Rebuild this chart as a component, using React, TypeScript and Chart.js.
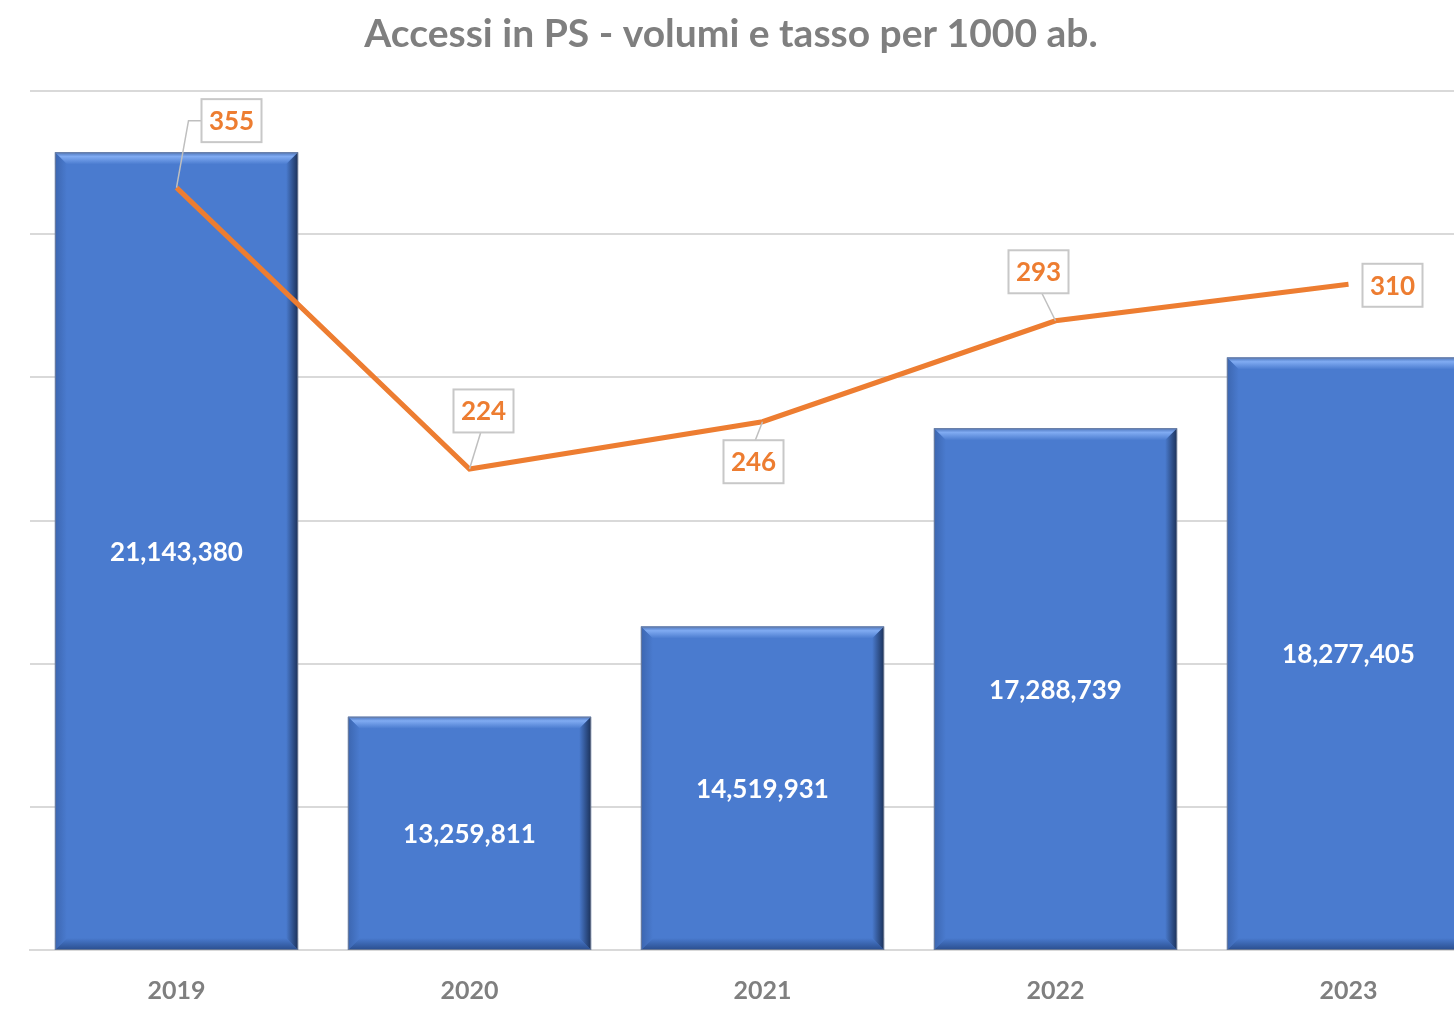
import React, { useEffect, useRef } from 'react';
import { Chart, registerables } from 'chart.js';

Chart.register(...registerables);

const categories = ['2019', '2020', '2021', '2022', '2023'];
const volumes = [21143380, 13259811, 14519931, 17288739, 18277405];
const ratePer1000 = [355, 224, 246, 293, 310];
const volumeAxis = { min: 10000000, max: 22000000, step: 2000000 };
const rateAxis = { min: 0, max: 400 };
const titleText = 'Accessi in PS - volumi e tasso per 1000 ab.';

// label box offsets (dx, dy) from each line point
const rateLabelOffsets: [number, number][] = [[55, -67], [14, -58], [-9, 40], [-17, -49], [44, 1]];

const FONT = 'Lato, "Open Sans", sans-serif';
const GRAY = '#7f7f7f';
const ORANGE = '#ED7D31';
const BLUE = '#4a7bcf';

function poly(ctx: CanvasRenderingContext2D, pts: number[][], fill: any) {
  ctx.beginPath();
  ctx.moveTo(pts[0][0], pts[0][1]);
  for (let i = 1; i < pts.length; i++) ctx.lineTo(pts[i][0], pts[i][1]);
  ctx.closePath();
  ctx.fillStyle = fill;
  ctx.fill();
}

function drawBevel(ctx: CanvasRenderingContext2D, l: number, t: number, r: number, b: number, s: number) {
  let g = ctx.createLinearGradient(0, t, 0, t + s);
  g.addColorStop(0, '#4a73bb');
  g.addColorStop(0.35, '#80abf2');
  g.addColorStop(1, BLUE);
  poly(ctx, [[l, t], [r, t], [r - s, t + s], [l + s, t + s]], g);
  g = ctx.createLinearGradient(0, b - s, 0, b);
  g.addColorStop(0, BLUE);
  g.addColorStop(1, '#2a4e8e');
  poly(ctx, [[l, b], [r, b], [r - s, b - s], [l + s, b - s]], g);
  g = ctx.createLinearGradient(r - s, 0, r, 0);
  g.addColorStop(0, BLUE);
  g.addColorStop(1, '#1b3159');
  poly(ctx, [[r, t], [r, b], [r - s, b - s], [r - s, t + s]], g);
  g = ctx.createLinearGradient(l, 0, l + s, 0);
  g.addColorStop(0, '#3c66b0');
  g.addColorStop(1, BLUE);
  poly(ctx, [[l, t], [l, b], [l + s, b - s], [l + s, t + s]], g);
  ctx.strokeStyle = 'rgba(120,130,150,0.8)';
  ctx.lineWidth = 1;
  ctx.strokeRect(l + 0.5, t + 0.5, r - l - 1, b - t - 1);
}

const customPlugin = {
  id: 'custom',
  afterDatasetDraw(chart: any, args: any) {
    if (args.index !== 0) return;
    const ctx = chart.ctx as CanvasRenderingContext2D;
    const meta = chart.getDatasetMeta(0);
    const bottom = chart.chartArea.bottom;
    ctx.save();
    meta.data.forEach((el: any, i: number) => {
      const l = el.x - el.width / 2;
      const r = el.x + el.width / 2;
      const base = Math.min(el.base, bottom);
      drawBevel(ctx, l, el.y, r, base, 12);
      ctx.fillStyle = '#ffffff';
      ctx.font = `bold 26px ${FONT}`;
      ctx.textAlign = 'center';
      ctx.textBaseline = 'middle';
      ctx.fillText(volumes[i].toLocaleString('en-US'), el.x, (el.y + base) / 2 + 1);
    });
    ctx.restore();
  },
  afterDatasetsDraw(chart: any) {
    const ctx = chart.ctx as CanvasRenderingContext2D;
    const meta = chart.getDatasetMeta(1);
    ctx.save();
    meta.data.forEach((el: any, i: number) => {
      const [dx, dy] = rateLabelOffsets[i];
      const cx = el.x + dx;
      const cy = el.y + dy;
      const w = 60, h = 43;
      const l = cx - w / 2, t = cy - h / 2;
      ctx.strokeStyle = '#bfbfbf';
      ctx.lineWidth = 1.5;
      ctx.beginPath();
      if (Math.abs(dx) > w / 2 + 4 && Math.abs(dy) > h / 2) {
        const ex = dx > 0 ? l : l + w;
        ctx.moveTo(el.x, el.y);
        ctx.lineTo(ex - (dx > 0 ? 13 : -13), cy);
        ctx.lineTo(ex, cy);
        ctx.stroke();
      } else if (Math.abs(dy) > h / 2 + 2) {
        const ey = dy > 0 ? t : t + h;
        ctx.moveTo(el.x, el.y);
        ctx.lineTo(cx - dx * 0.2, ey);
        ctx.stroke();
      }
      ctx.fillStyle = '#ffffff';
      ctx.fillRect(l, t, w, h);
      ctx.strokeStyle = '#c8c8c8';
      ctx.lineWidth = 2;
      ctx.strokeRect(l, t, w, h);
      ctx.fillStyle = ORANGE;
      ctx.font = `bold 26px ${FONT}`;
      ctx.textAlign = 'center';
      ctx.textBaseline = 'middle';
      ctx.fillText(String(ratePer1000[i]), cx, cy + 1);
    });
    ctx.fillStyle = GRAY;
    ctx.font = `bold 39px ${FONT}`;
    ctx.textAlign = 'center';
    ctx.textBaseline = 'middle';
    ctx.fillText(titleText, 731, 34);
    ctx.restore();
  },
};

export default function App() {
  const ref = useRef<HTMLCanvasElement>(null);
  useEffect(() => {
    if (!ref.current) return;
    const chart = new Chart(ref.current, {
      type: 'bar',
      data: {
        labels: categories,
        datasets: [
          {
            type: 'bar',
            label: 'Volumi',
            data: volumes,
            backgroundColor: BLUE,
            yAxisID: 'y',
            order: 2,
            barPercentage: 0.83,
            categoryPercentage: 1,
          },
          {
            type: 'line',
            label: 'Tasso per 1000 ab.',
            data: ratePer1000,
            borderColor: ORANGE,
            borderWidth: 5,
            pointRadius: 0,
            tension: 0,
            yAxisID: 'y1',
            order: 1,
          },
        ] as any,
      },
      options: {
        responsive: false,
        animation: false,
        devicePixelRatio: 1,
        layout: { padding: { left: 30, right: 5, top: 91, bottom: 0 } },
        plugins: { legend: { display: false }, title: { display: false }, tooltip: { enabled: false } },
        scales: {
          x: {
            grid: { display: false, drawTicks: false },
            border: { display: true, color: '#d9d9d9', width: 2 },
            ticks: { color: GRAY, font: { family: FONT, size: 25, weight: 'bold' }, padding: 26 },
            afterFit: (s: any) => { s.height = 60; },
          },
          y: {
            position: 'left',
            min: volumeAxis.min,
            max: volumeAxis.max,
            ticks: { display: false, stepSize: volumeAxis.step },
            grid: { color: '#d9d9d9', lineWidth: 2, drawTicks: false },
            border: { display: false },
            afterFit: (s: any) => { s.width = 0; },
          },
          y1: {
            position: 'right',
            min: rateAxis.min,
            max: rateAxis.max,
            display: false,
          },
        },
      } as any,
      plugins: [customPlugin],
    });
    return () => chart.destroy();
  }, []);
  return (
    <div style={{ position: 'fixed', left: 0, top: 0, width: 1454, height: 1010, overflow: 'hidden', background: '#fff' }}>
      <canvas ref={ref} width={1500} height={1010} style={{ width: 1500, height: 1010 }} />
    </div>
  );
}
